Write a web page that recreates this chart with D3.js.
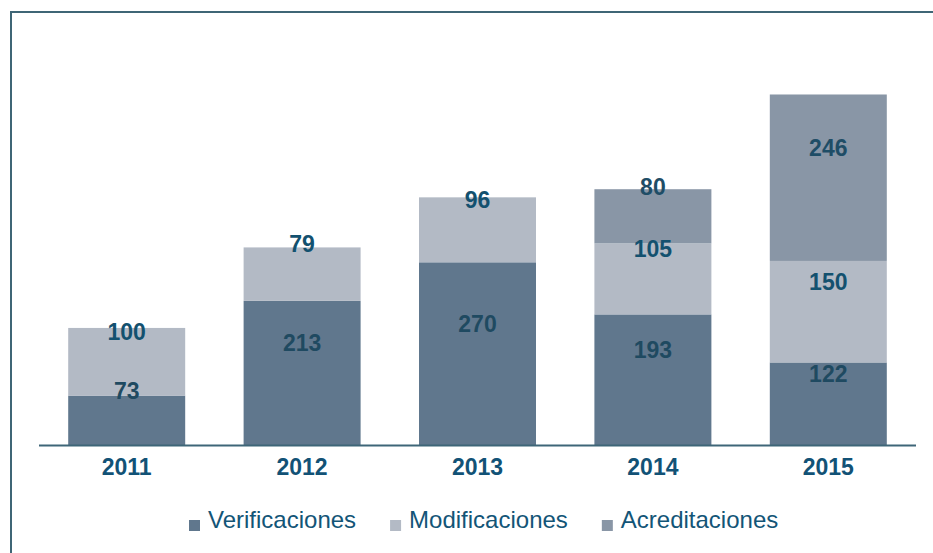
<!DOCTYPE html>
<meta charset="utf-8">

<head>
    <title>Verificaciones, Modificaciones y Acreditaciones</title>
</head>

<style>
    body {
        margin: 0;
        background: #fff;
    }

    * {
        font-family: 'Liberation Sans', Arial, sans-serif;
    }

    .value_label {
        font-size: 23px;
        font-weight: bold;
        text-anchor: middle;
    }

    .year_label {
        font-size: 23px;
        font-weight: bold;
        text-anchor: middle;
        fill: #125276;
    }

    .legend_text {
        font-size: 24px;
        fill: #135577;
    }
</style>

<body>
    <svg id="chart" width="933" height="553"></svg>

    <script src="https://cdn.jsdelivr.net/npm/d3@7"></script>
    <script>
        // data
        const years = ["2011", "2012", "2013", "2014", "2015"];
        const seriesNames = ["Verificaciones", "Modificaciones", "Acreditaciones"];
        const verificaciones = [73, 213, 270, 193, 122];
        const modificaciones = [100, 79, 96, 105, 150];
        const acreditaciones = [0, 0, 0, 80, 246];

        const seriesColors = ["#60778d", "#b3bac5", "#8996a6"];
        const labelColors = ["#1f4a61", "#13516f", "#1f4d66"];

        const svg = d3.select("#chart");
        const axisLeftX = 39;
        const axisRightX = 916;
        const baseY = 445;
        const labelOffset = -30; // labels sit above segment centre

        // table for the stack
        const table = years.map((y, i) => ({
            year: y,
            Verificaciones: verificaciones[i],
            Modificaciones: modificaciones[i],
            Acreditaciones: acreditaciones[i]
        }));
        const stacked = d3.stack().keys(seriesNames)(table);

        const xScale = d3.scaleBand()
            .domain(years)
            .range([axisLeftX, axisRightX])
            .paddingInner(0.333)
            .paddingOuter(0.1665);

        const yScale = d3.scaleLinear()
            .domain([0, 600])
            .range([baseY, 39]);

        // frame (only top and left edges visible)
        svg.append("path")
            .attr("d", "M11,553 V12 H933")
            .attr("fill", "none")
            .attr("stroke", "#3f6676")
            .attr("stroke-width", 2);

        // bars
        const layers = svg.append("g")
            .selectAll("g")
            .data(stacked)
            .enter()
            .append("g")
            .attr("fill", (d, i) => seriesColors[i]);

        layers.selectAll("rect")
            .data(d => d)
            .enter()
            .append("rect")
            .attr("x", d => xScale(d.data.year))
            .attr("width", xScale.bandwidth())
            .attr("y", d => yScale(d[1]))
            .attr("height", d => yScale(d[0]) - yScale(d[1]));

        // axis line
        svg.append("line")
            .attr("x1", axisLeftX)
            .attr("x2", axisRightX)
            .attr("y1", baseY + 0.5)
            .attr("y2", baseY + 0.5)
            .attr("stroke", "#3e6678")
            .attr("stroke-width", 2);

        // value labels
        stacked.forEach((layer, si) => {
            svg.append("g")
                .selectAll("text")
                .data(layer.filter(d => d[1] - d[0] > 0))
                .enter()
                .append("text")
                .attr("class", "value_label")
                .attr("fill", labelColors[si])
                .attr("x", d => xScale(d.data.year) + xScale.bandwidth() / 2)
                .attr("y", d => (yScale(d[0]) + yScale(d[1])) / 2 + labelOffset)
                .attr("dy", "0.36em")
                .text(d => d[1] - d[0]);
        });

        // year labels
        svg.append("g")
            .selectAll("text")
            .data(years)
            .enter()
            .append("text")
            .attr("class", "year_label")
            .attr("x", d => xScale(d) + xScale.bandwidth() / 2)
            .attr("y", 475)
            .text(d => d);

        // legend
        const legendStartX = 189;
        const legendBaseline = 528;
        const boxSize = 11;
        let lx = legendStartX;
        seriesNames.forEach((name, i) => {
            svg.append("rect")
                .attr("x", lx)
                .attr("y", legendBaseline - 8)
                .attr("width", boxSize)
                .attr("height", boxSize)
                .attr("fill", seriesColors[i]);
            const t = svg.append("text")
                .attr("class", "legend_text")
                .attr("x", lx + boxSize + 8)
                .attr("y", legendBaseline)
                .text(name);
            lx += boxSize + 8 + t.node().getComputedTextLength() + 34;
        });
    </script>
</body>

</html>
